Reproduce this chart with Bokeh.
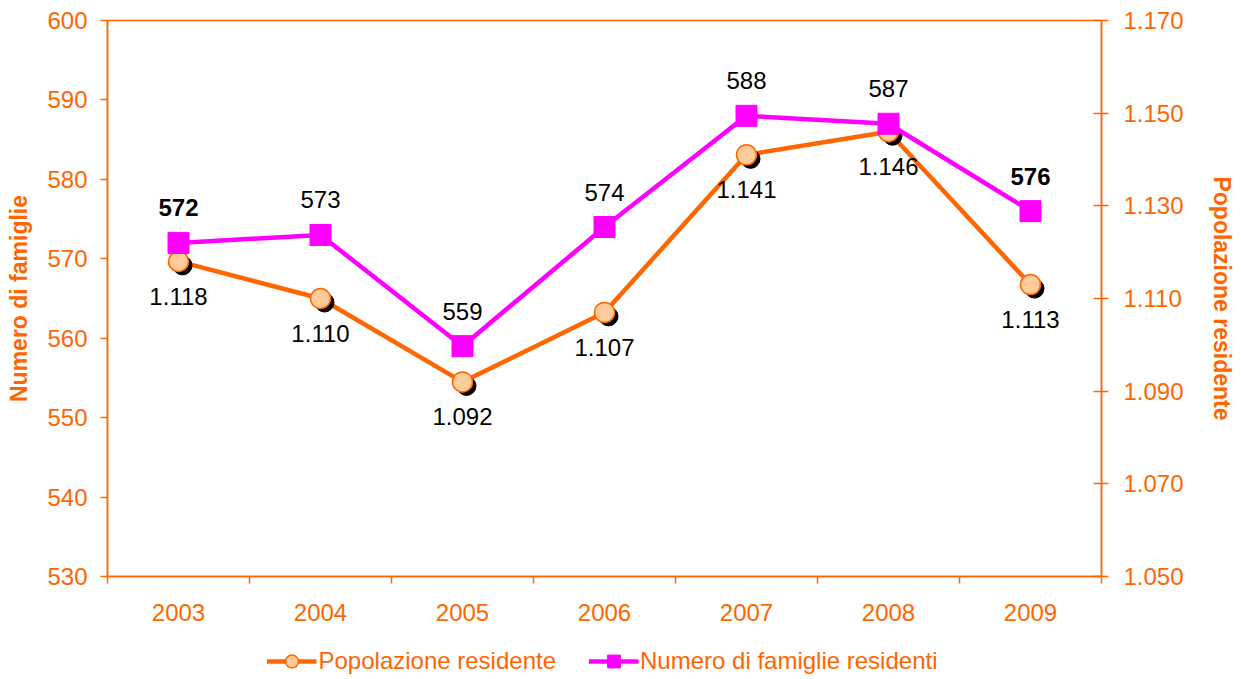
from bokeh.plotting import figure
from bokeh.layouts import column
from bokeh.models import (Range1d, LinearAxis, FixedTicker, ColumnDataSource,
                          Legend, LegendItem)
from bokeh.core.properties import value
from bokeh.embed import file_html
from bokeh.resources import INLINE

years = [2003, 2004, 2005, 2006, 2007, 2008, 2009]
famiglie = [572, 573, 559, 574, 588, 587, 576]
popolazione = [1118, 1110, 1092, 1107, 1141, 1146, 1113]
bold_family_years = [2003, 2009]
left_ticks = [530, 540, 550, 560, 570, 580, 590, 600]
right_ticks = [1050, 1070, 1090, 1110, 1130, 1150, 1170]
series_names = ["Popolazione residente", "Numero di famiglie residenti"]

ORANGE = "#FF6600"
PEACH = "#FFCC99"
MAGENTA = "#FF00FF"
FONT = "Liberation Sans"

FW, FH = 994, 556
xs = [i + 0.5 for i in range(len(years))]

def it_fmt(v):
    return f"{v // 1000}.{v % 1000:03d}"

p = figure(frame_width=FW, frame_height=FH, output_backend="svg", toolbar_location=None,
           x_range=Range1d(0, len(years)), y_range=Range1d(left_ticks[0], left_ticks[-1]),
           x_axis_type=None, y_axis_type=None,
           min_border_left=107, min_border_top=20, min_border_right=132, min_border_bottom=56)
p.extra_y_ranges = {"pop": Range1d(right_ticks[0], right_ticks[-1])}
p.xgrid.visible = False
p.ygrid.visible = False
p.outline_line_color = ORANGE
p.outline_line_width = 1.5

def style_axis(ax):
    ax.axis_line_color = ORANGE
    ax.axis_line_width = 1.5
    ax.major_tick_line_color = ORANGE
    ax.major_tick_line_width = 1.5
    ax.minor_tick_line_color = ORANGE
    ax.minor_tick_line_width = 1.5
    ax.major_label_text_color = ORANGE
    ax.major_label_text_font = FONT
    ax.major_label_text_font_size = "24px"
    ax.axis_label_text_color = ORANGE
    ax.axis_label_text_font = FONT
    ax.axis_label_text_font_size = "23px"
    ax.axis_label_text_font_style = "bold"

# left axis
la = LinearAxis(ticker=FixedTicker(ticks=left_ticks, minor_ticks=[]), axis_label="Numero di famiglie")
style_axis(la)
la.major_tick_out = 7
la.major_tick_in = 0
la.major_label_standoff = 13
la.axis_label_standoff = 12
p.add_layout(la, "left")

# right axis
ra = LinearAxis(y_range_name="pop", ticker=FixedTicker(ticks=right_ticks, minor_ticks=[]),
                axis_label="Popolazione residente")
style_axis(ra)
ra.major_tick_out = 7
ra.major_tick_in = 8
ra.major_label_standoff = 15
ra.axis_label_standoff = 22
ra.major_label_overrides = {t: it_fmt(t) for t in right_ticks}
p.add_layout(ra, "right")

# bottom axis
ba = LinearAxis(ticker=FixedTicker(ticks=xs, minor_ticks=list(range(len(years) + 1))))
style_axis(ba)
ba.major_tick_out = 0
ba.major_tick_in = 0
ba.minor_tick_out = 7
ba.minor_tick_in = 0
ba.major_label_standoff = 20
ba.major_label_overrides = {x: str(y) for x, y in zip(xs, years)}
p.add_layout(ba, "below")

# shadow offset (pixels -> data units)
dx = 4 * len(years) / FW
dy = 4 * (right_ticks[-1] - right_ticks[0]) / FH

pop_src = ColumnDataSource(dict(x=xs, y=popolazione,
                                xs_=[x + dx for x in xs], ys_=[y - dy for y in popolazione],
                                lab=[it_fmt(v) for v in popolazione]))
fam_src = ColumnDataSource(dict(x=xs, y=famiglie, lab=[str(v) for v in famiglie],
                                style=["bold" if yr in bold_family_years else "normal" for yr in years]))

p.line("x", "y", source=pop_src, y_range_name="pop", line_color=ORANGE, line_width=4.5)
p.scatter("xs_", "ys_", source=pop_src, y_range_name="pop", marker="circle", size=19,
          fill_color="black", line_color="black")
p.scatter("x", "y", source=pop_src, y_range_name="pop", marker="circle", size=20,
          fill_color=PEACH, line_color=ORANGE, line_width=1.5)
p.text("x", "y", text="lab", source=pop_src, y_range_name="pop", y_offset=35,
       text_align="center", text_baseline="middle", text_color="black",
       text_font=value(FONT), text_font_size="24px")

p.line("x", "y", source=fam_src, line_color=MAGENTA, line_width=4.5)
p.scatter("x", "y", source=fam_src, marker="square", size=21,
          fill_color=MAGENTA, line_color=MAGENTA)
p.text("x", "y", text="lab", source=fam_src, y_offset=-35,
       text_align="center", text_baseline="middle", text_color="black",
       text_font=value(FONT), text_font_size="24px", text_font_style="style")

# legend strip below the chart (its renderers share the data but lie outside its view)
lg = figure(width=1233, height=45, output_backend="svg", toolbar_location=None,
            x_range=Range1d(-20, -19), y_range=Range1d(0, 1), x_axis_type=None, y_axis_type=None,
            min_border_left=0, min_border_right=28, min_border_top=0, min_border_bottom=0)
lg.outline_line_color = None
lg.xgrid.visible = False
lg.ygrid.visible = False
gl1 = lg.line("x", "y", source=pop_src, line_color=ORANGE, line_width=4.5)
gc1 = lg.scatter("x", "y", source=pop_src, marker="circle", size=15,
                 fill_color=PEACH, line_color=ORANGE, line_width=1.5)
gl2 = lg.line("x", "y", source=fam_src, line_color=MAGENTA, line_width=4.5)
gs2 = lg.scatter("x", "y", source=fam_src, marker="square", size=13,
                 fill_color=MAGENTA, line_color=MAGENTA)
legend = Legend(items=[LegendItem(label=series_names[0], renderers=[gl1, gc1]),
                       LegendItem(label=series_names[1], renderers=[gl2, gs2])],
                orientation="horizontal", location="bottom_center")
legend.label_text_color = ORANGE
legend.label_text_font = FONT
legend.label_text_font_size = "24px"
legend.glyph_width = 50
legend.glyph_height = 32
legend.label_height = 32
legend.label_standoff = 2
legend.spacing = 32
legend.border_line_color = None
legend.background_fill_alpha = 0
legend.padding = 0
legend.margin = 0
lg.add_layout(legend, "center")

layout = column(p, lg, spacing=0)
open("out.html", "w").write(file_html(layout, INLINE))
